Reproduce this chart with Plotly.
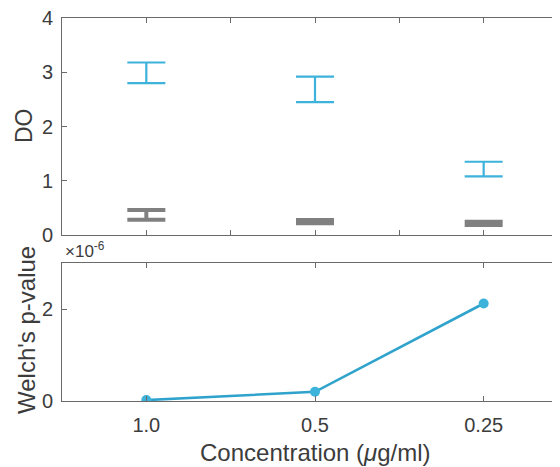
import plotly.graph_objects as go

# ── Data ──────────────────────────────────────────────────────────────────────
CONCENTRATIONS = ["1.0", "0.5", "0.25"]          # µg/ml, plotted as categories
POSITIONS = [1, 2, 3]

DO_TREATED_MEAN = [2.99, 2.685, 1.215]
DO_TREATED_ERR = [0.19, 0.235, 0.135]
DO_CONTROL_MEAN = [0.37, 0.245, 0.215]
DO_CONTROL_ERR = [0.09, 0.03, 0.03]

WELCH_P = [0.02e-6, 0.20e-6, 2.12e-6]

CYAN = "#3DB2DA"
LINE = "#2FA3CC"
GREY = "#808080"
AXIS = "#6a6a6a"
TEXT = "#3c3c3c"
FONT = "Liberation Sans, Arial, sans-serif"

fig = go.Figure()

# ── Top panel: error bars (no centre markers) ────────────────────────────────
for mean, err, colour, thick in [
    (DO_TREATED_MEAN, DO_TREATED_ERR, CYAN, 2.2),
    (DO_CONTROL_MEAN, DO_CONTROL_ERR, GREY, 4.0),
]:
    fig.add_trace(go.Scatter(
        x=POSITIONS, y=mean, mode="markers",
        marker=dict(color="rgba(0,0,0,0)", size=1),
        error_y=dict(type="data", array=err, symmetric=True,
                     color=colour, thickness=thick, width=19),
        xaxis="x", yaxis="y", showlegend=False, hoverinfo="skip",
    ))

# ── Bottom panel: Welch's p-value ─────────────────────────────────────────────
fig.add_trace(go.Scatter(
    x=POSITIONS, y=WELCH_P, mode="lines+markers",
    line=dict(color=LINE, width=2.6),
    marker=dict(color=CYAN, size=10),
    xaxis="x2", yaxis="y2", showlegend=False,
))

axis_common = dict(
    showline=True, linecolor=AXIS, linewidth=1, mirror="ticks",
    ticks="inside", ticklen=5, tickcolor=AXIS, tickwidth=1,
    showgrid=False, zeroline=False, ticklabeloverflow="allow",
    tickfont=dict(family=FONT, size=20, color=TEXT),
)
X_RANGE = [0.5, 3.5]
top_dom = [(401 - 235) / 383, 1.0]
bot_dom = [0.0, (401 - 263) / 383]

# page body adds an 8 px offset, so margins are shifted by that amount
fig.update_layout(
    width=560, height=467,
    margin=dict(l=54, r=0, t=10, b=74),
    paper_bgcolor="white", plot_bgcolor="white",
    font=dict(family=FONT, color=TEXT),
    xaxis=dict(axis_common, domain=[0, 1], anchor="y", range=X_RANGE,
               tickvals=[1, 1.5, 2, 2.5, 3], showticklabels=False),
    yaxis=dict(axis_common, domain=top_dom, anchor="x", range=[0, 4],
               tickvals=[0, 1, 2, 3, 4], mirror=False, ticklabelstandoff=4),
    xaxis2=dict(axis_common, domain=[0, 1], anchor="y2", range=X_RANGE,
                tickvals=POSITIONS, ticktext=CONCENTRATIONS, ticklabelstandoff=6),
    yaxis2=dict(axis_common, domain=bot_dom, anchor="x2", range=[0, 3e-6],
                tickvals=[0, 2e-6], ticktext=["0", "2"], mirror=False,
                ticklabelstandoff=4),
)

# ── Labels ────────────────────────────────────────────────────────────────────
def px_x(px):
    return (px - 62) / 506


def px_y(py):
    return (401 - py) / 383


fig.add_annotation(text="DO", x=px_x(24), y=px_y(126), xref="paper", yref="paper",
                   textangle=-90, showarrow=False, xanchor="center", yanchor="middle",
                   font=dict(family=FONT, size=23, color=TEXT))
fig.add_annotation(text="Welch's p-value", x=px_x(26), y=px_y(330), xref="paper", yref="paper",
                   textangle=-90, showarrow=False, xanchor="center", yanchor="middle",
                   font=dict(family=FONT, size=24, color=TEXT))
fig.add_annotation(text="×10<sup>-6</sup>", x=px_x(63), y=px_y(250), xref="paper", yref="paper",
                   showarrow=False, xanchor="left", yanchor="middle",
                   font=dict(family=FONT, size=17, color=TEXT))
fig.add_annotation(text="Concentration (<i>μ</i>g/ml)", x=px_x(315), y=px_y(452),
                   xref="paper", yref="paper", showarrow=False,
                   xanchor="center", yanchor="middle",
                   font=dict(family=FONT, size=24, color=TEXT))

fig.write_html("out.html")
